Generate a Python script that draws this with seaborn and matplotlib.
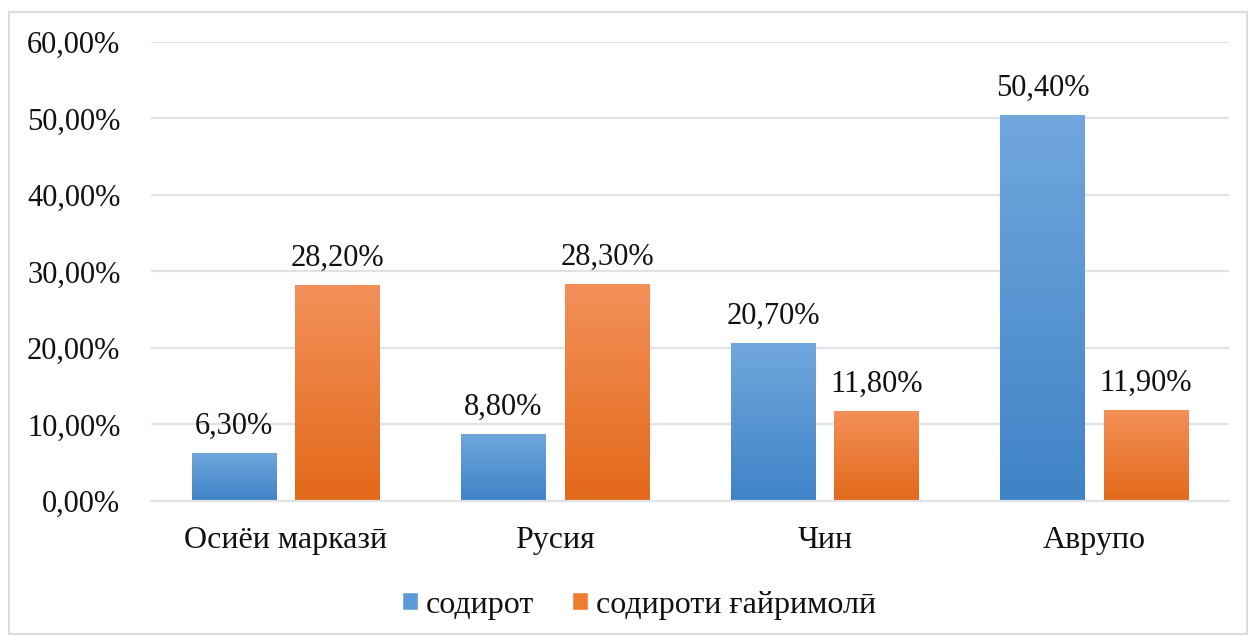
import numpy as np
import pandas as pd
import seaborn as sns
import matplotlib.pyplot as plt
from matplotlib.patches import Rectangle, Patch
from matplotlib.colors import LinearSegmentedColormap

regions = ['Осиёи марказӣ', 'Русия', 'Чин', 'Аврупо']
series = ['содирот', 'содироти ғайримолӣ']
export_vals = [6.3, 8.8, 20.7, 50.4]
nonmaterial_vals = [28.2, 28.3, 11.8, 11.9]
yticks = [0, 10, 20, 30, 40, 50, 60]

df = pd.DataFrame({
    'region': regions * 2,
    'kind': [series[0]] * 4 + [series[1]] * 4,
    'value': export_vals + nonmaterial_vals,
})

sns.set_style('white')
plt.rcParams['font.family'] = ['Liberation Serif', 'DejaVu Serif']

fig = plt.figure(figsize=(12.51, 6.37), dpi=100)
ax = fig.add_axes([0.1207, 0.2135, 0.8617, 0.7206])

blue_top, blue_bot = '#71a7dd', '#3f83c7'
orange_top, orange_bot = '#f39059', '#e3691a'
sns.barplot(data=df, x='region', y='value', hue='kind', order=regions,
            hue_order=series, palette=['#5b9bd5', '#ed7d31'],
            width=0.768, gap=0.1875, ax=ax, legend=False)

# gradient fill for each bar
grad = np.linspace(0, 1, 256).reshape(-1, 1)
for i, p in enumerate(ax.patches):
    top, bot = (blue_top, blue_bot) if i < 4 else (orange_top, orange_bot)
    cmap = LinearSegmentedColormap.from_list('g', [bot, top])
    x0, w, h = p.get_x(), p.get_width(), p.get_height()
    im = ax.imshow(grad, cmap=cmap, aspect='auto', origin='lower',
                   extent=[x0, x0 + w, 0, h], zorder=2)
    im.set_clip_path(p)
    p.set_facecolor('none')
    p.set_edgecolor('none')
    lbl = f'{h:.2f}'.replace('.', ',') + '%'
    ax.text(x0 + w / 2, h + 1.6, lbl, ha='center', va='bottom', fontsize=22, color='#111111')
ax.set_xlim(-0.5, 3.5)
ax.set_ylim(0, 60)

ax.set_yticks(yticks)
ax.set_yticklabels([f'{v},00%' for v in yticks], fontsize=22, color='#111111')
ax.tick_params(axis='y', length=0, pad=22)
ax.tick_params(axis='x', length=0, pad=18, labelsize=23, labelcolor='#111111')
ax.set_xlabel('')
ax.set_ylabel('')
ax.grid(axis='y', color='#dfe3e8', linewidth=1.6, zorder=0)
ax.set_axisbelow(True)
for s in ['top', 'right', 'left']:
    ax.spines[s].set_visible(False)
ax.spines['bottom'].set_color('#dfe3e8')
ax.spines['bottom'].set_linewidth(1.6)

handles = [Patch(facecolor='#5b9bd5', label=series[0]),
           Patch(facecolor='#ee7d31', label=series[1])]
fig.legend(handles=handles, loc='center', bbox_to_anchor=(0.511, 0.05), ncol=2,
           frameon=False, fontsize=23, handlelength=0.5, handleheight=0.5,
           handletextpad=0.25, columnspacing=1.2, labelcolor='#111111')

fig.patches.append(Rectangle((0.007, 0.004), 0.99, 0.977, transform=fig.transFigure,
                             fill=False, edgecolor='#d9dde3', linewidth=1.5))

fig.savefig('out.png', dpi=100)
